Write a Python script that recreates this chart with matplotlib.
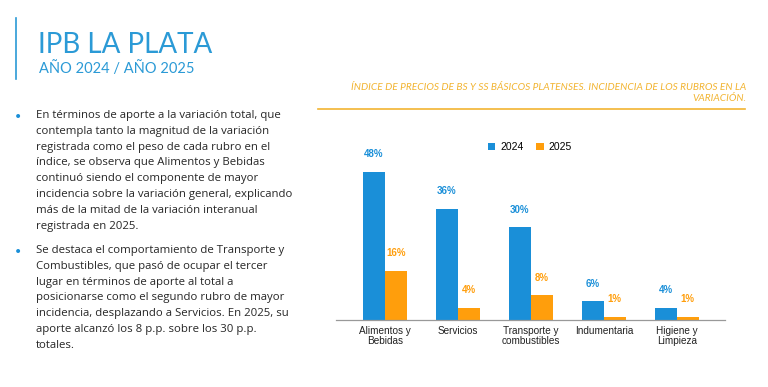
import matplotlib
matplotlib.use("Agg")
import matplotlib.pyplot as plt
import numpy as np
from matplotlib.lines import Line2D

categories = ["Alimentos y\nBebidas", "Servicios", "Transporte y\ncombustibles", "Indumentaria", "Higiene y\nLimpieza"]
vals_2024 = [48, 36, 30, 6, 4]
vals_2025 = [16, 4, 8, 1, 1]
series_names = ["2024", "2025"]

bullets = [
    "En términos de aporte a la variación total, que\n"
    "contempla tanto la magnitud de la variación\n"
    "registrada como el peso de cada rubro en el\n"
    "índice, se observa que Alimentos y Bebidas\n"
    "continuó siendo el componente de mayor\n"
    "incidencia sobre la variación general, explicando\n"
    "más de la mitad de la variación interanual\n"
    "registrada en 2025.",
    "Se destaca el comportamiento de Transporte y\n"
    "Combustibles, que pasó de ocupar el tercer\n"
    "lugar en términos de aporte al total a\n"
    "posicionarse como el segundo rubro de mayor\n"
    "incidencia, desplazando a Servicios. En 2025, su\n"
    "aporte alcanzó los 8 p.p. sobre los 30 p.p.\n"
    "totales.",
]

BLUE = "#1a8fd8"
ORANGE = "#ff9e0c"
TITLE_BLUE = "#2b9ad6"
W, H = 768, 387

fig = plt.figure(figsize=(7.68, 3.87), dpi=100)
fig.patch.set_facecolor("white")

# header
fig.add_artist(Line2D([16 / W, 16 / W], [1 - 18 / H, 1 - 79 / H], color=TITLE_BLUE, lw=1.2))
fig.text(38 / W, 1 - 53 / H, "IPB LA PLATA", fontsize=20, color=TITLE_BLUE, family="Lato", va="baseline")
fig.text(39 / W, 1 - 73 / H, "AÑO 2024 / AÑO 2025", fontsize=10.5, color=TITLE_BLUE, family="Lato", va="baseline")

# chart caption
fig.text(746 / W, 1 - 83 / H, "ÍNDICE DE PRECIOS DE BS Y SS BÁSICOS PLATENSES. INCIDENCIA DE LOS RUBROS EN LA\nVARIACIÓN.",
         fontsize=7.3, color="#f2b431", style="italic", family="Lato", ha="right", va="top",
         linespacing=1.3, multialignment="right")
fig.add_artist(Line2D([318 / W, 745 / W], [1 - 109 / H, 1 - 109 / H], color="#f2b431", lw=1.2))

# bullet text
tops = [110, 245]
for top, txt in zip(tops, bullets):
    fig.text(18 / W, 1 - (top + 7) / H, "•", fontsize=10, color=BLUE, va="center", ha="center")
    fig.text(36 / W, 1 - top / H, txt, fontsize=8.2, color="#262626", family="Open Sans",
             va="top", linespacing=1.6)

# bar chart
ax = fig.add_axes([336 / W, 1 - 320 / H, (725 - 336) / W, 190 / H])
x = np.arange(len(categories))
bw = 0.30
b1 = ax.bar(x - bw / 2, vals_2024, bw, color=BLUE, label=series_names[0])
b2 = ax.bar(x + bw / 2, vals_2025, bw, color=ORANGE, label=series_names[1])
for bars, vals, c in [(b1, vals_2024, BLUE), (b2, vals_2025, ORANGE)]:
    for rect, v in zip(bars, vals):
        ax.annotate(f"{v}%", (rect.get_x() + rect.get_width() / 2, v), xytext=(0, 9),
                    textcoords="offset points", ha="center", va="bottom",
                    fontsize=7, fontweight="bold", color=c, family="Liberation Sans")
ax.set_xlim(-0.67, 4.66)
ax.set_ylim(0, 61.6)
ax.set_xticks(x)
ax.set_xticklabels(categories, fontsize=7.2, family="Liberation Sans", color="#222222", linespacing=1.1)
ax.tick_params(axis="x", length=0, pad=4)
ax.set_yticks([])
for s in ["top", "right", "left"]:
    ax.spines[s].set_visible(False)
ax.spines["bottom"].set_color("#999999")
ax.spines["bottom"].set_linewidth(0.9)
ax.set_facecolor("none")

fig.legend(handles=[b1, b2], loc="center", bbox_to_anchor=(530 / W, 1 - 147 / H), ncol=2,
           frameon=False, handlelength=0.7, handleheight=0.7, handletextpad=0.5,
           columnspacing=1.2, prop={"family": "Liberation Sans", "size": 7.5})

fig.savefig("out.png", dpi=100, facecolor="white")
